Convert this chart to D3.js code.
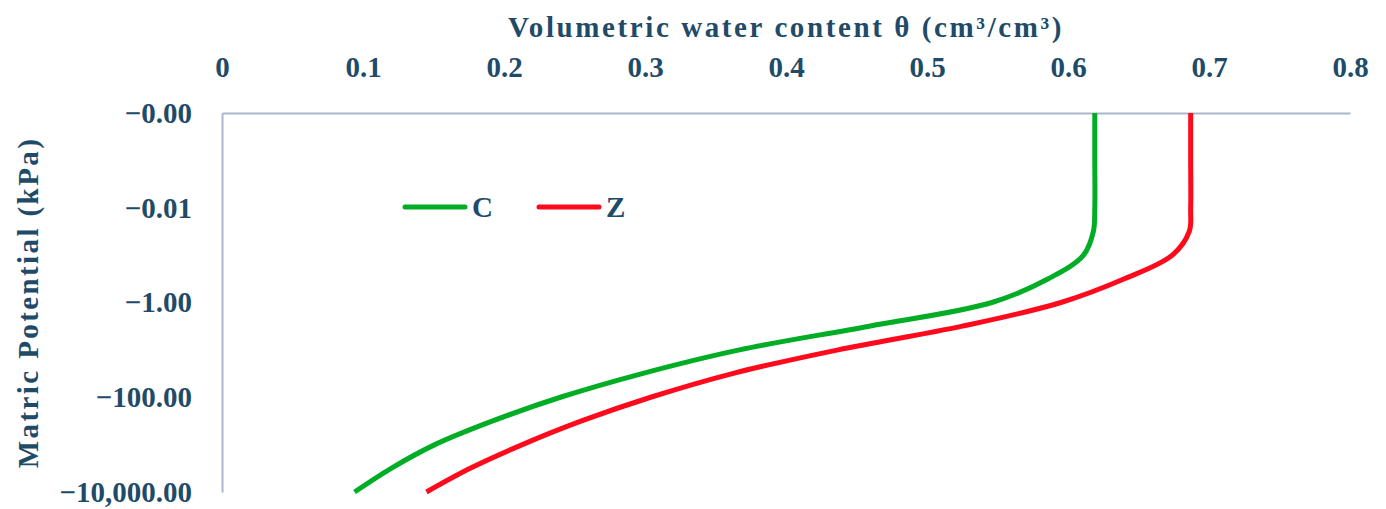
<!DOCTYPE html>
<html>
<head>
<meta charset="utf-8">
<script src="https://cdn.jsdelivr.net/npm/d3@7"></script>
<style>
  body { margin: 0; background: #fff; }
  text { font-family: "Palatino Linotype", "Book Antiqua", Palatino, "Liberation Serif", serif; font-weight: bold; fill: #1f4b69; }
</style>
</head>
<body>
<div id="chart"></div>
<script>
// Matric potential (kPa) sampled at half decades
const potential = [-0.0001, -0.001, -0.01, -0.0316, -0.1, -0.316, -1, -3.16, -10, -31.6, -100, -316, -1000, -3162, -10000];

// Volumetric water content
const thetaC = [0.619, 0.619, 0.619, 0.618, 0.611, 0.586, 0.546, 0.459, 0.367, 0.298, 0.240, 0.192, 0.151, 0.120, 0.094];
const thetaZ = [0.687, 0.687, 0.687, 0.686, 0.674, 0.640, 0.595, 0.525, 0.437, 0.362, 0.304, 0.255, 0.213, 0.176, 0.145];

const seriesNames = ["C", "Z"];
const seriesColors = ["#00ad24", "#ff0a1c"];

const xTicks = [0, 0.1, 0.2, 0.3, 0.4, 0.5, 0.6, 0.7, 0.8];
const yTicks = [-0.0001, -0.01, -1, -100, -10000];

const width = 1386, height = 509;
const plot = { left: 222, right: 1350, top: 113, bottom: 492 };

const svg = d3.select("#chart")
    .append("svg")
    .attr("width", width)
    .attr("height", height);

const x = d3.scaleLinear().domain([0, 0.8]).range([plot.left, plot.right]);
const y = d3.scaleLog().domain([-0.0001, -10000]).range([plot.top, plot.bottom]);

// d3 drops the sign when -0.0001 rounds to zero, so add it back by hand
const fmtY = d => "\u2212" + d3.format(",.2f")(Math.abs(d));

// top axis
svg.append("g")
    .attr("transform", `translate(0,${plot.top})`)
    .call(d3.axisTop(x).tickValues(xTicks).tickSize(0).tickPadding(36)
        .tickFormat(d => d === 0 ? "0" : d3.format(".1f")(d)));

// left axis
svg.append("g")
    .attr("transform", `translate(${plot.left},0)`)
    .call(d3.axisLeft(y).tickValues(yTicks).tickSize(0).tickPadding(30)
        .tickFormat(fmtY));

svg.selectAll(".domain")
    .attr("stroke", "#a8b8ca")
    .attr("stroke-width", 2);

svg.selectAll(".tick text")
    .attr("font-size", 29)
    .attr("fill", "#1f4b69")
    .attr("font-family", null);

// axis titles
svg.append("text")
    .attr("x", (plot.left + plot.right) / 2)
    .attr("y", 37)
    .attr("text-anchor", "middle")
    .attr("font-size", 29)
    .style("letter-spacing", "2.6px")
    .text("Volumetric water content θ (cm³/cm³)");

svg.append("text")
    .attr("transform", `translate(28,${(plot.top + plot.bottom) / 2}) rotate(-90)`)
    .attr("text-anchor", "middle")
    .attr("dominant-baseline", "central")
    .attr("font-size", 29)
    .style("letter-spacing", "2.4px")
    .text("Matric Potential (kPa)");

// curves
const line = d3.line()
    .x(d => x(d.theta))
    .y(d => y(d.h))
    .curve(d3.curveCatmullRom.alpha(0.5));

[thetaC, thetaZ].forEach((vals, i) => {
    const data = potential.map((h, j) => ({ h: h, theta: vals[j] }));
    svg.append("path")
        .datum(data)
        .attr("fill", "none")
        .attr("stroke", seriesColors[i])
        .attr("stroke-width", 5)
        .attr("d", line);
});

// legend
const legendX = [405, 539];
seriesNames.forEach((name, i) => {
    const g = svg.append("g").attr("transform", `translate(${legendX[i]},207)`);
    g.append("line")
        .attr("x1", 0).attr("x2", 60)
        .attr("stroke", seriesColors[i])
        .attr("stroke-width", 5)
        .attr("stroke-linecap", "round");
    g.append("text")
        .attr("x", 67)
        .attr("dominant-baseline", "central")
        .attr("font-size", 29)
        .text(name);
});
</script>
</body>
</html>
